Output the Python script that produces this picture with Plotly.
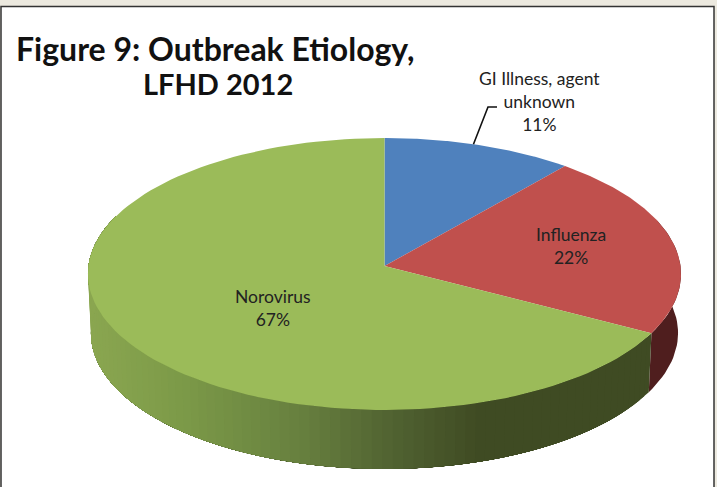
import numpy as np
import plotly.graph_objects as go

categories = ["GI Illness, agent<br>unknown", "Influenza", "Norovirus"]
values = [11, 22, 67]
colors = ["#4F81BD", "#C0504D", "#9BBB59"]
title_lines = ["Figure 9: Outbreak Etiology,", "LFHD 2012"]

W, H = 717, 487
CX, APEX_Y = 384.5, 266.0
A, B, K = 135.5, 296.0, 0.0588
DEPTH, BOTTOM_SCALE = 59.0, 0.99


def rim(t):
    """Project a pie angle (radians, clockwise from 12 o'clock) on to the tilted disc."""
    u, v = np.sin(t), np.cos(t)
    d = 1 + K * v
    return CX + B * u / d, APEX_Y - A * v / d


def bottom_rim(t):
    x, y = rim(t)
    return CX + (x - CX) * BOTTOM_SCALE, y + DEPTH


total = sum(values)
edges = 2 * np.pi * np.cumsum([0] + values) / total

fig = go.Figure()


def poly(xs, ys, color):
    fig.add_trace(go.Scatter(x=xs, y=ys, mode="lines", fill="toself", fillcolor=color,
                             line=dict(color=color, width=0), hoverinfo="skip", showlegend=False))


def wall(t0, t1, n=12):
    ts = np.linspace(t0, t1, n)
    xt, yt = rim(ts)
    xb, yb = bottom_rim(ts)
    return np.r_[xt, xb[::-1], xt[0]], np.r_[yt, yb[::-1], yt[0]]


# Side wall: dark red part, then shaded green part painted as overlapping bands
xs, ys = wall(np.radians(70), edges[2], 30)
poly(xs, ys, "#4F1E1E")

stop_x = [90, 180, 300, 400, 480, 700]
stop_rgb = np.array([[138, 166, 80], [124, 154, 72], [103, 128, 63], [79, 96, 48], [63, 75, 35], [63, 75, 35]])
END = np.radians(292)
strip_edges = np.linspace(edges[2], END, 91)
for a, b in zip(strip_edges[:-1], strip_edges[1:]):
    xm = rim((a + b) / 2)[0]
    rgb = [int(round(np.interp(xm, stop_x, stop_rgb[:, i]))) for i in range(3)]
    xs, ys = wall(a, END, 60)
    poly(xs, ys, f"rgb({rgb[0]},{rgb[1]},{rgb[2]})")

# Top faces
for i, c in enumerate(colors):
    ts = np.linspace(edges[i], edges[i + 1], 120)
    x, y = rim(ts)
    poly(np.r_[CX, x, CX], np.r_[APEX_Y, y, APEX_Y], c)

# Leader line for the first label
lx, ly = rim(np.radians(18.5))
fig.add_trace(go.Scatter(x=[497, 488, lx], y=[107, 107, ly], mode="lines",
                         line=dict(color="#111111", width=1.6), hoverinfo="skip", showlegend=False))

label_pos = [(539, 101), (571, 246), (273, 308)]
annotations = [
    dict(x=px, y=py, text=f"{c}<br>{v}%", showarrow=False, xref="x", yref="y",
         align="center", font=dict(family="Lato", size=17.5, color="#222222"))
    for (px, py), c, v in zip(label_pos, categories, values)
]
annotations += [
    dict(x=215, y=48, text=f"<b>{title_lines[0]}</b>", showarrow=False, xref="x", yref="y",
         font=dict(family="Lato", size=32, color="#111111")),
    dict(x=218, y=83, text=f"<b>{title_lines[1]}</b>", showarrow=False, xref="x", yref="y",
         font=dict(family="Lato", size=29, color="#111111")),
]

fig.update_layout(
    width=W, height=H, margin=dict(l=0, r=0, t=0, b=0),
    paper_bgcolor="#ECE9DF", plot_bgcolor="#ECE9DF", showlegend=False,
    xaxis=dict(range=[0, W], visible=False, fixedrange=True),
    yaxis=dict(range=[H, 0], visible=False, fixedrange=True),
    annotations=annotations,
    shapes=[dict(type="rect", xref="x", yref="y", x0=1, y0=6.5, x1=714, y1=495,
                 fillcolor="white", line=dict(color="#333333", width=1.5), layer="below")],
)

fig.write_html("out.html", config=dict(displayModeBar=False),
               post_script="document.body.style.margin='0';")
